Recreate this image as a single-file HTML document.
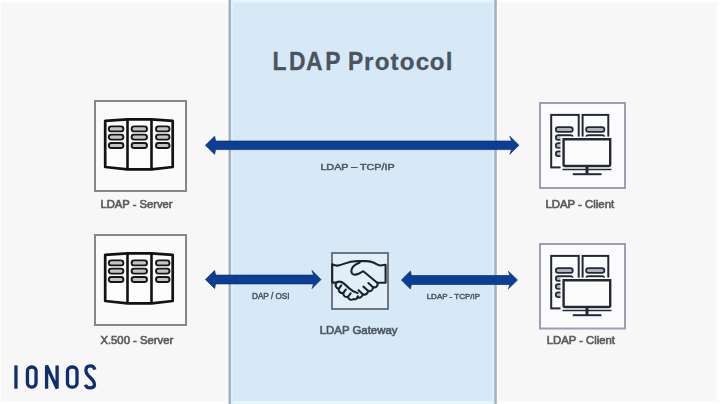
<!DOCTYPE html>
<html><head><meta charset="utf-8">
<style>
html,body{margin:0;padding:0;width:720px;height:404px;overflow:hidden;background:#f7f7f7;}
svg{display:block;position:absolute;left:0;top:0;filter:blur(0.35px);}
text{font-family:"Liberation Sans",sans-serif;}
</style></head>
<body>
<svg width="720" height="404" viewBox="0 0 720 404">
  <defs>
    <g id="server">
      <path d="M11.2,20.8 L33.5,19.4 L57.5,19.4 L78.7,20.8 L78.7,67 L57.5,69.3 L33.5,69.3 L11.2,67 Z" fill="#fdfdfd" stroke="#121212" stroke-width="2.7" stroke-linejoin="round"/>
      <path d="M33.5,19.4 V69.3 M57.5,19.4 V69.3" stroke="#121212" stroke-width="2.6"/>
      <g fill="#c4c4c4" stroke="#161616" stroke-width="1.9">
        <rect x="14.8" y="26.4" width="14.6" height="5" rx="2.5"/>
        <rect x="14.8" y="34.6" width="14.6" height="5" rx="2.5"/>
        <rect x="14.8" y="43" width="14.6" height="5" rx="2.5"/>
        <rect x="37.6" y="26.4" width="15.4" height="5" rx="2.5"/>
        <rect x="37.6" y="34.6" width="15.4" height="5" rx="2.5"/>
        <rect x="37.6" y="43" width="15.4" height="5" rx="2.5"/>
        <rect x="62" y="26.4" width="13.5" height="5" rx="2.5"/>
        <rect x="62" y="34.6" width="13.5" height="5" rx="2.5"/>
        <rect x="62" y="43" width="13.5" height="5" rx="2.5"/>
      </g>
    </g>
    <g id="client">
      <rect x="12.2" y="12.9" width="27.5" height="52.5" fill="#fdfdfd" stroke="#222834" stroke-width="2"/>
      <rect x="43.6" y="12.9" width="25.7" height="40" fill="#fdfdfd" stroke="#222834" stroke-width="2"/>
      <g fill="#aeb2ba" stroke="#222834" stroke-width="1.7">
        <rect x="16.8" y="25.1" width="17" height="4.8" rx="2.4"/>
        <rect x="16.8" y="33.1" width="17" height="4.8" rx="2.4"/>
        <rect x="16.8" y="41.2" width="17" height="4.8" rx="2.4"/>
        <rect x="16.8" y="49.3" width="17" height="4.8" rx="2.4"/>
        <rect x="47.1" y="25.1" width="18.3" height="4.8" rx="2.4"/>
        <rect x="47.1" y="33.1" width="18.3" height="4.8" rx="2.4"/>
      </g>
      <rect x="21.5" y="34.6" width="53" height="33" fill="#fdfdfd"/>
      <path d="M24.6,37.2 H71.2 V62.5 Q71.2,64 69.7,64 H26.1 Q24.6,64 24.6,62.5 Z" fill="#fcfcfc" stroke="#222834" stroke-width="2.4"/>
      <path d="M23.5,67.5 H72.4" stroke="#222834" stroke-width="1.7"/>
      <path d="M48,64 V72.2" stroke="#222834" stroke-width="3"/>
      <path d="M33.8,72.2 H62.5" stroke="#222834" stroke-width="2"/>
    </g>
  </defs>

  <!-- central panel -->
  <rect x="0" y="0" width="720" height="2.5" fill="#fefefe"/>
  <rect x="0" y="401" width="720" height="3" fill="#fefefe"/>
  <rect x="0" y="0" width="1.5" height="404" fill="#fefefe"/>
  <rect x="717" y="0" width="3" height="404" fill="#fefefe"/>
  <rect x="229" y="0" width="267" height="404" fill="#d7e9f7"/>
  <rect x="229" y="0" width="267" height="2.5" fill="#e4f6fd"/>
  <rect x="229" y="401" width="267" height="3" fill="#e6f8fd"/>
  <rect x="231" y="0" width="2" height="404" fill="#e2f1fb"/>
  <rect x="492" y="0" width="2" height="404" fill="#e0f0fb"/>
  <rect x="226" y="0" width="2.5" height="404" fill="#f9fbfc"/>
  <rect x="497" y="0" width="2" height="404" fill="#fbfbfb"/>
  <rect x="228.5" y="0" width="2.5" height="404" fill="#a4b2bf"/>
  <rect x="494.3" y="0" width="2.5" height="404" fill="#a4b2bf"/>

  <!-- title -->
  <g font-size="26" font-weight="bold" fill="#4a555f" stroke="#4a555f" stroke-width="0.3"><text x="309.55 328.52 347.84 369.55 395.57" y="69.8" transform="scale(0.88,1)">LDAPP</text><text x="391.40 402.86 419.89 429.96 447.16 462.00 479.25" y="73.47" transform="scale(0.93,0.95)">rotocol</text></g>

  <!-- arrows -->
  <g fill="#0c3e93" stroke="#0b3070" stroke-width="0.7" stroke-linejoin="miter">
    <path d="M205.4,145.3 L214.6,136.2 L215.6,141.00 H511.6 L509.8,136.2 L518.9,145.3 L509.8,154.3 L511.6,149.60 H215.6 L214.6,154.3 Z"/>
    <path d="M205.4,279.5 L214.6,270.5 L215.6,275.10 H313.6 L312.0,270.4 L321.0,279.5 L312.0,288.6 L313.6,283.90 H215.6 L214.6,288.5 Z"/>
    <path d="M401.4,280.0 L410.4,271.1 L411.4,275.50 H510.0 L508.4,271.3 L517.5,280.0 L508.4,288.8 L510.0,284.50 H411.4 L410.4,289.0 Z"/>
  </g>

  <!-- boxes -->
  <g fill="#fafafa" stroke="#878787" stroke-width="2">
    <rect x="95" y="101" width="91" height="90"/>
    <rect x="95" y="235" width="91" height="90"/>
  </g>
  <g fill="#fbfbfd" stroke="#9b9fb0" stroke-width="2">
    <rect x="540" y="103" width="85" height="85"/>
    <rect x="540" y="244" width="85" height="84.5"/>
  </g>
  <use href="#server" x="94" y="100"/>
  <use href="#server" x="94" y="234"/>
  <use href="#client" x="539" y="102"/>
  <use href="#client" x="539" y="243"/>

  <!-- gateway -->
  <rect x="332" y="253" width="56" height="56" fill="#e2eef8" stroke="#6a7886" stroke-width="2"/>
  <g fill="none" stroke="#1c232e" stroke-width="2.1" stroke-linejoin="round" stroke-linecap="round">
    <path d="M336.4,282.6 H332.2 V264.3 C334,265.2 336,265.8 337.6,265.6 C340,265.3 342,264.6 344.5,263.6 C348,262.2 352,261.1 357,261.1 L366.8,261.1 C370,261.2 372,261.8 374,262.7 C376.5,264 378,265.4 380,265.5 C382,265.5 384,265 385.6,264.8 V282.8 H377.5"/>
    <path d="M359.8,262.5 C356,264 353,266 351.8,268.8 C350.8,271.5 351.5,274 353.8,274.6 C355.5,275 357,274.5 358.5,273.8 L363.3,271.2 L377.5,283"/>
    <path d="M377.5,283 C378.5,285.8 375.8,288 373,287.2 C373.4,290 370.6,292 368,290.8 C368.2,293.6 365.4,295.4 362.8,294.2 C362.6,296.8 360,298.4 357.4,297.4"/>
    <path d="M373,287.2 L368.4,283 M368,290.8 L363.4,286.6 M362.8,294.2 L358.6,290.2"/>
    <path d="M336.4,282.4 C339.5,281 342,281.8 344,283.6 L349.5,288.6 C351.5,290.6 354,292.4 357.6,293"/>
    <path d="M336.4,282.8 C334.8,285.5 336,288.5 338.8,288.8 C338.2,291.5 340.6,293.6 343.2,293 C343,295.8 345.4,297.6 348,296.8 C348.2,299.6 351.2,300.6 353.5,299 C355.5,299.8 357.6,298.8 357.8,296.4"/>
    <path d="M338.8,288.8 L341.2,285.4 M343.2,293 L345.8,289.6 M348,296.8 L350.6,293.4"/>
  </g>

  <!-- labels -->
  <g fill="#5a5a5a" stroke="#5a5a5a" stroke-width="0.6" font-size="10.5">
    <text x="100.4" y="208.2" textLength="72.2" lengthAdjust="spacingAndGlyphs">LDAP - Server</text>
    <text x="545.4" y="208.2" textLength="68.8" lengthAdjust="spacingAndGlyphs">LDAP - Client</text>
    <text x="100.4" y="344" textLength="72.9" lengthAdjust="spacingAndGlyphs">X.500 - Server</text>
    <text x="546.8" y="344" textLength="68.1" lengthAdjust="spacingAndGlyphs">LDAP - Client</text>
  </g>
  <g fill="#4f5861" stroke="#4f5861">
    <text x="319.7" y="333.8" font-size="10.5" stroke-width="0.6" textLength="77.8" lengthAdjust="spacingAndGlyphs">LDAP Gateway</text>
    <text x="320.4" y="169.6" font-size="9.2" stroke-width="0.5" textLength="74.3" lengthAdjust="spacingAndGlyphs">LDAP – TCP/IP</text>
    <text x="252" y="298.8" font-size="8.4" stroke-width="0.5" textLength="37.6" lengthAdjust="spacingAndGlyphs">DAP / OSI</text>
    <text x="426.7" y="299.4" font-size="8" stroke-width="0.5" textLength="53.3" lengthAdjust="spacingAndGlyphs">LDAP - TCP/IP</text>
  </g>

  <!-- IONOS logo -->
  <g fill="none" stroke="#112d6e" stroke-width="3.3">
    <path d="M15.95,365.4 V388.7"/>
    <rect x="27.45" y="367" width="8.6" height="20.1" rx="4"/>
    <path d="M46.6,388.7 V365.5 L57.1,388.6 V365.4" stroke-linejoin="miter"/>
    <rect x="67.5" y="367" width="9.5" height="20.1" rx="4.2"/>
    <path d="M94.9,369.6 C94.2,367.1 92.6,365.9 90.2,365.9 C87.2,365.9 85.9,367.9 85.9,370.5 C85.9,372.6 86.7,373.8 88.1,375.3 L92.6,380 C94,381.5 94.5,382.8 94.5,384.6 C94.5,387.2 92.6,387.9 90,387.9 C87.5,387.9 86,386.8 85.4,384.8"/>
  </g>
</svg>
</body></html>
